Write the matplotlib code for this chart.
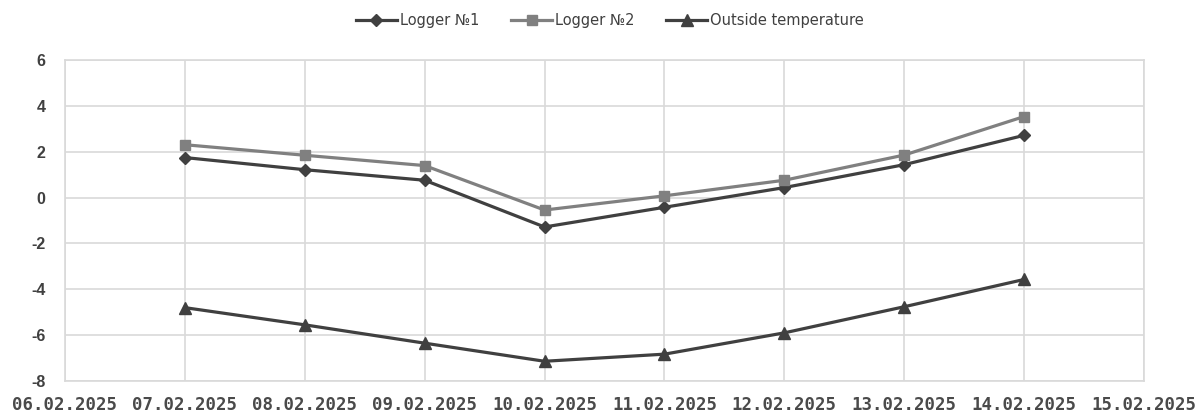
import matplotlib
matplotlib.use("Agg")
import matplotlib.pyplot as plt
import matplotlib.dates as mdates
from datetime import date

plt.rcParams["axes.unicode_minus"] = False

dates = [date(2025, 2, d) for d in range(7, 15)]
logger1 = [1.75, 1.22, 0.76, -1.28, -0.42, 0.44, 1.44, 2.72]
logger2 = [2.31, 1.85, 1.40, -0.54, 0.08, 0.76, 1.86, 3.54]
outside = [-4.80, -5.55, -6.35, -7.14, -6.83, -5.90, -4.76, -3.57]

fig = plt.figure(figsize=(12.03, 4.15), dpi=100)
ax = fig.add_axes([0.054, 0.082, 0.897, 0.773])

lw = 2.3
ax.plot(dates, logger1, color="#404040", lw=lw, marker="D", ms=6.5, label="Logger №1", zorder=3)
ax.plot(dates, logger2, color="#808080", lw=lw, marker="s", ms=7.5, label="Logger №2", zorder=3)
ax.plot(dates, outside, color="#404040", lw=lw, marker="^", ms=8.5, label="Outside temperature", zorder=3)

ax.set_xlim(date(2025, 2, 6), date(2025, 2, 15))
ax.set_ylim(-8, 6)
ax.set_yticks(range(-8, 7, 2))
ax.xaxis.set_major_locator(mdates.DayLocator())
ax.xaxis.set_major_formatter(mdates.DateFormatter("%d.%m.%Y"))

ax.grid(True, color="#d9d9d9", lw=1.2)
for s in ax.spines.values():
    s.set_color("#d9d9d9")
    s.set_linewidth(1.2)
ax.tick_params(axis="y", length=0, pad=14)
ax.tick_params(axis="x", length=0, pad=11)
for lbl in ax.get_yticklabels():
    lbl.set_fontfamily("Liberation Sans")
    lbl.set_fontsize(11.5)
    lbl.set_color("#404040")
    lbl.set_fontweight("bold")
for lbl in ax.get_xticklabels():
    lbl.set_fontfamily("DejaVu Sans Mono")
    lbl.set_fontsize(12.5)
    lbl.set_color("#4a4a4a")
    lbl.set_fontweight("bold")

fig.legend(loc="upper center", bbox_to_anchor=(0.507, 1.0), ncol=3, frameon=False,
           prop={"family": "Liberation Sans Narrow", "size": 10.5},
           handlelength=2.8, columnspacing=2.2, handletextpad=0.2, labelcolor="#404040")

fig.savefig("out.png", dpi=100, facecolor="white")
